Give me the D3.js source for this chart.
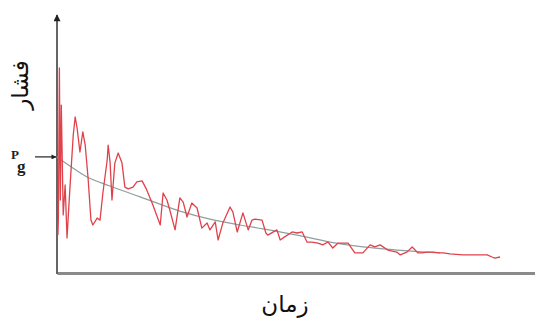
<!DOCTYPE html>
<html>
<head>
<meta charset="utf-8">
<script src="https://cdn.jsdelivr.net/npm/d3@7"></script>
<style>
  html, body { margin: 0; padding: 0; background: #fff; }
  svg { display: block; }
</style>
</head>
<body>
<svg id="chart" width="535" height="324"></svg>
<script>
// Measured pressure over time (arbitrary units, 0-100 on both axes)
const measuredTime = [0.2, 0.3, 0.5, 0.7, 0.9, 1.3, 1.7, 2.1, 2.7, 3.4, 3.8, 4.2, 4.8, 5.4, 5.9, 6.5, 7.1, 7.5, 8.4, 9.0,
  9.6, 10.5, 10.7, 11.1, 11.5, 12.1, 12.8, 13.6, 14.2, 14.9, 15.9, 16.7, 17.8, 18.6, 19.9, 21.6, 22.2, 23.0, 23.6, 24.7,
  25.7, 26.4, 27.2, 28.2, 29.3, 30.3, 31.4, 32.0, 33.1, 33.7, 34.7, 36.2, 36.8, 37.7, 38.9, 40.0, 40.8, 41.4, 42.9, 43.7,
  44.1, 46.0, 46.7, 47.3, 49.2, 50.2, 51.3, 52.3, 53.3, 54.6, 55.6, 56.7, 57.7, 58.8, 60.9, 62.3, 64.0, 65.5, 66.5, 67.6,
  69.2, 71.1, 71.8, 73.2, 74.3, 75.5, 76.4, 77.4, 78.7, 80.1, 80.8, 82.2, 84.9, 90.0, 91.0, 91.6, 92.7];
const measuredPressure = [14.7, 22.5, 79.5, 28.3, 65.1, 22.5, 34.1, 13.6, 32.9, 53.5, 60.5, 56.2, 46.9, 54.7, 49.6, 36.8, 20.5, 18.6, 21.3, 20.5,
  31.0, 43.8, 49.6, 43.0, 28.3, 42.6, 46.5, 42.6, 33.3, 32.6, 33.3, 35.3, 35.7, 32.9, 27.1, 18.6, 31.0, 28.3, 24.4, 16.7,
  29.1, 27.5, 21.7, 27.1, 25.2, 17.4, 19.4, 16.7, 19.8, 12.8, 19.4, 25.6, 23.6, 15.9, 23.3, 16.7, 20.5, 20.9, 20.5, 15.5,
  14.7, 16.7, 12.8, 13.6, 15.9, 15.5, 15.9, 12.0, 12.0, 11.6, 10.9, 12.0, 9.7, 11.6, 11.6, 7.8, 7.8, 10.9, 10.1, 10.9,
  8.9, 8.1, 7.0, 8.1, 10.1, 7.8, 7.8, 8.1, 8.1, 7.8, 7.8, 7.4, 7.0, 7.0, 6.2, 5.8, 6.2];

// Smoothed trend, starting at Pg
const trendTime = [0, 2.7, 6.3, 11.1, 17.4, 25.7, 32.0, 38.3, 43.1, 50.2, 57.1, 64.0, 71.1, 80.1];
const trendPressure = [45.0, 41.5, 37.2, 33.7, 29.5, 24.0, 20.9, 18.6, 17.1, 14.7, 12.0, 10.1, 8.9, 7.8];

const xTitle = "زمان";
const yTitle = "فشار";
const pgLabel = { main: "P", sub: "g" };

const svg = d3.select("#chart");
const margin = { left: 57, right: 0, top: 15, bottom: 51 };
const W = 535, H = 324;

const x = d3.scaleLinear().domain([0, 100]).range([margin.left, W - margin.right]);
const y = d3.scaleLinear().domain([0, 100]).range([H - margin.bottom, margin.top]);

const defs = svg.append("defs");
defs.append("marker")
  .attr("id", "arrowHead")
  .attr("viewBox", "0 0 10 10")
  .attr("refX", 9).attr("refY", 5)
  .attr("markerWidth", 10).attr("markerHeight", 7)
  .attr("markerUnits", "userSpaceOnUse")
  .attr("orient", "auto")
  .append("path").attr("d", "M0,0 L10,5 L0,10 z").attr("fill", "#222");

defs.append("marker")
  .attr("id", "arrowSmall")
  .attr("viewBox", "0 0 10 10")
  .attr("refX", 9).attr("refY", 5)
  .attr("markerWidth", 8).attr("markerHeight", 5)
  .attr("markerUnits", "userSpaceOnUse")
  .attr("orient", "auto")
  .append("path").attr("d", "M0,0 L10,5 L0,10 z").attr("fill", "#222");

// x axis: domain line only
const xAxis = svg.append("g")
  .attr("transform", `translate(0,${y(0)})`)
  .call(d3.axisBottom(x).tickValues([]).tickSizeOuter(0));
xAxis.select(".domain").attr("stroke", "#8a8a8a").attr("stroke-width", 3);

// y axis: vertical line with an arrow tip
const yAxis = svg.append("g")
  .attr("transform", `translate(${x(0)},0)`)
  .call(d3.axisLeft(y).tickValues([]).tickSizeOuter(0));
yAxis.select(".domain").remove();
yAxis.append("line")
  .attr("x1", 0).attr("x2", 0)
  .attr("y1", y(0) + 1).attr("y2", y(100))
  .attr("stroke", "#555").attr("stroke-width", 1.8)
  .attr("marker-end", "url(#arrowHead)");

// trend curve
const trendLine = d3.line()
  .x((d, i) => x(trendTime[i]))
  .y(d => y(d))
  .curve(d3.curveMonotoneX);
svg.append("path")
  .datum(trendPressure)
  .attr("d", trendLine)
  .attr("fill", "none")
  .attr("stroke", "#8f9e9e")
  .attr("stroke-width", 1.2);

// measured pressure
const measuredLine = d3.line()
  .x((d, i) => x(measuredTime[i]))
  .y(d => y(d));
svg.append("path")
  .datum(measuredPressure)
  .attr("d", measuredLine)
  .attr("fill", "none")
  .attr("stroke", "#e0424c")
  .attr("stroke-width", 1.3)
  .attr("stroke-linejoin", "round");

// Pg marker arrow on the y axis
const pgY = y(trendPressure[0]);
svg.append("line")
  .attr("x1", x(0) - 22).attr("x2", x(0) - 1)
  .attr("y1", pgY).attr("y2", pgY)
  .attr("stroke", "#222").attr("stroke-width", 1.2)
  .attr("marker-end", "url(#arrowSmall)");
const pg = svg.append("text")
  .attr("font-family", "Liberation Serif, serif")
  .attr("font-weight", "bold")
  .attr("fill", "#222");
pg.append("tspan").attr("x", 11).attr("y", pgY + 2).attr("font-size", 13).text(pgLabel.main);
pg.append("tspan").attr("x", 17).attr("y", pgY + 15).attr("font-size", 17).text(pgLabel.sub);

// axis titles
svg.append("text")
  .attr("transform", `translate(28,85) rotate(-90)`)
  .attr("text-anchor", "middle")
  .attr("font-family", "DejaVu Sans, sans-serif")
  .attr("font-size", 23)
  .attr("fill", "#111")
  .text(yTitle);

svg.append("text")
  .attr("x", 285).attr("y", 312)
  .attr("text-anchor", "middle")
  .attr("font-family", "DejaVu Sans, sans-serif")
  .attr("font-size", 23)
  .attr("fill", "#111")
  .text(xTitle);
</script>
</body>
</html>
